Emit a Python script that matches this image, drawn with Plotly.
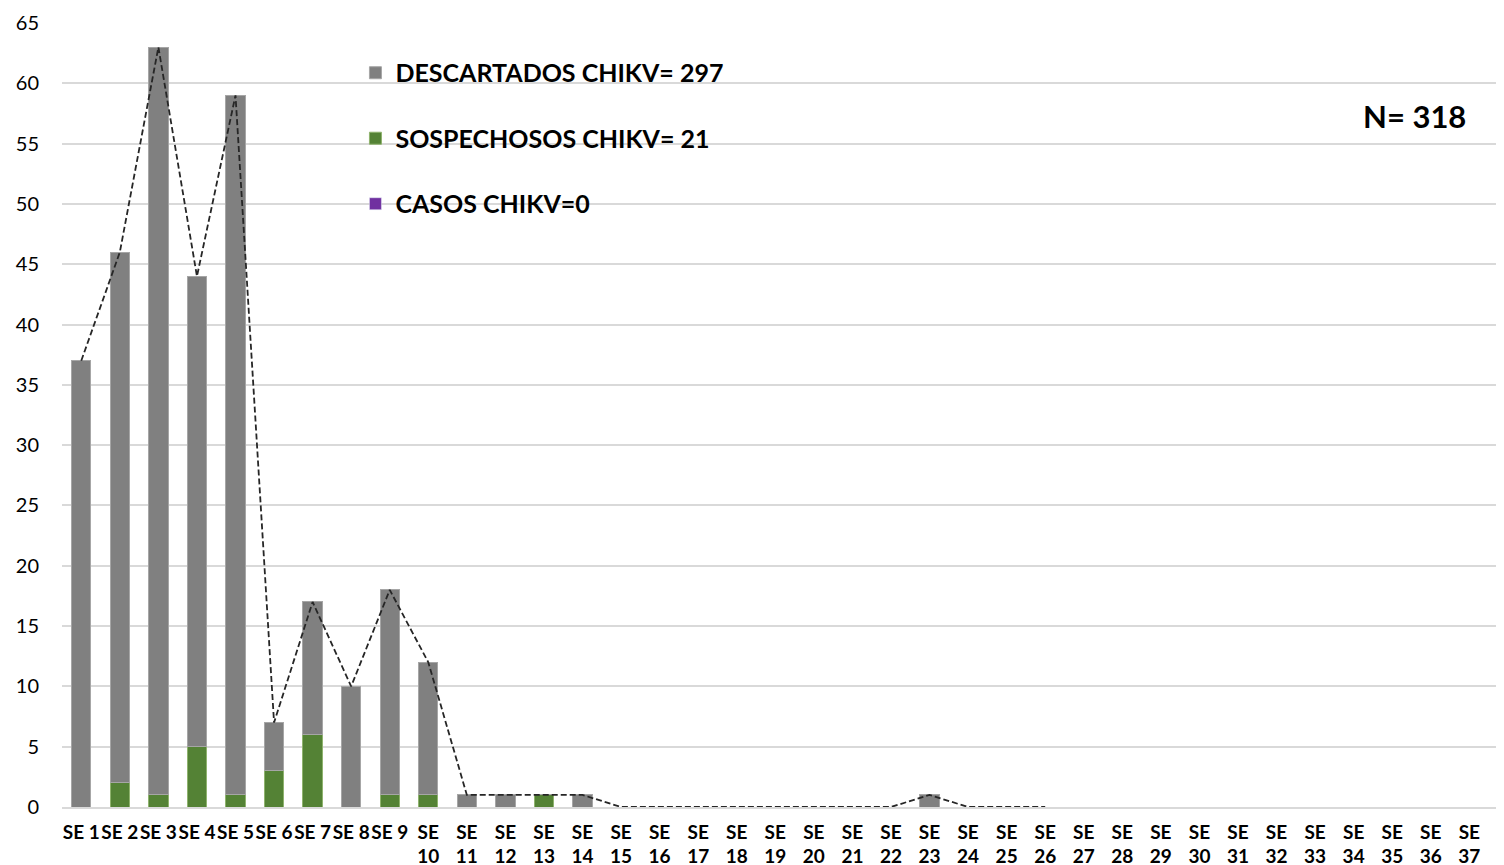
import plotly.graph_objects as go

# ================================
# Datos
# ================================
semanas = [f"SE {i}" for i in range(1, 53)]
etiquetas = [s if i < 9 else s.replace(" ", "<br>") for i, s in enumerate(semanas)]

descartados = [37, 44, 62, 39, 58, 4, 11, 10, 17, 11, 1, 1, 0, 1,
               0, 0, 0, 0, 0, 0, 0, 0, 1, 0, 0, 0]
sospechosos = [0, 2, 1, 5, 1, 3, 6, 0, 1, 1, 0, 0, 1, 0,
               0, 0, 0, 0, 0, 0, 0, 0, 0, 0, 0, 0]
casos = [0] * 26
total = [37, 46, 63, 44, 59, 7, 17, 10, 18, 12, 1, 1, 1, 1,
         0, 0, 0, 0, 0, 0, 0, 0, 1, 0, 0, 0]

x = semanas[:26]

# ================================
# Figura
# ================================
fig = go.Figure()
fig.add_trace(go.Bar(x=x, y=casos, name="CASOS CHIKV=0", legendgroup="c", legendrank=3,
                     marker=dict(color="#7030A0")))
fig.add_trace(go.Bar(x=x, y=sospechosos, name="SOSPECHOSOS CHIKV= 21", legendgroup="s", legendrank=2,
                     marker=dict(color="#548235", line=dict(color="#8fb36e", width=1))))
fig.add_trace(go.Bar(x=x, y=descartados, name="DESCARTADOS CHIKV= 297", legendgroup="d", legendrank=1,
                     marker=dict(color="#808080", line=dict(color="#a6a6a6", width=1))))
fig.add_trace(go.Scatter(x=x, y=total, mode="lines", showlegend=False,
                         line=dict(color="#262626", width=1.8, dash="6px,3px")))

fig.add_annotation(text="<b>N= 318</b>", xref="paper", yref="paper", x=0.938, y=0.881,
                   xanchor="center", yanchor="middle",
                   showarrow=False, font=dict(size=31, color="black"))

fig.update_layout(
    width=1504, height=865,
    barmode="stack", bargap=0.5,
    plot_bgcolor="white", paper_bgcolor="white",
    margin=dict(l=54, r=8, t=15, b=66),
    font=dict(family="Lato", color="black"),
    legend=dict(x=0.2035, y=0.9656, xanchor="left", yanchor="top",
                traceorder="grouped", tracegroupgap=30,
                font=dict(size=25, family="Lato", color="black", weight="bold"),
                bgcolor="rgba(0,0,0,0)"),
)
fig.update_xaxes(categoryorder="array", categoryarray=semanas,
                 tickvals=semanas, ticktext=etiquetas, tickangle=0,
                 range=[-0.5, 36.9], showgrid=False, automargin=False,
                 showline=True, linecolor="#d9d9d9", linewidth=1.5, ticklabelstandoff=7,
                 tickfont=dict(size=19, family="Lato", color="black", weight="bold"))
fig.update_yaxes(range=[0, 65], dtick=5, showgrid=True, gridcolor="#d9d9d9", gridwidth=1.5,
                 zeroline=False, ticks="", ticklabelstandoff=22, automargin=False,
                 tickfont=dict(size=20, family="Lato", color="black"))

fig.write_html("out.html")
